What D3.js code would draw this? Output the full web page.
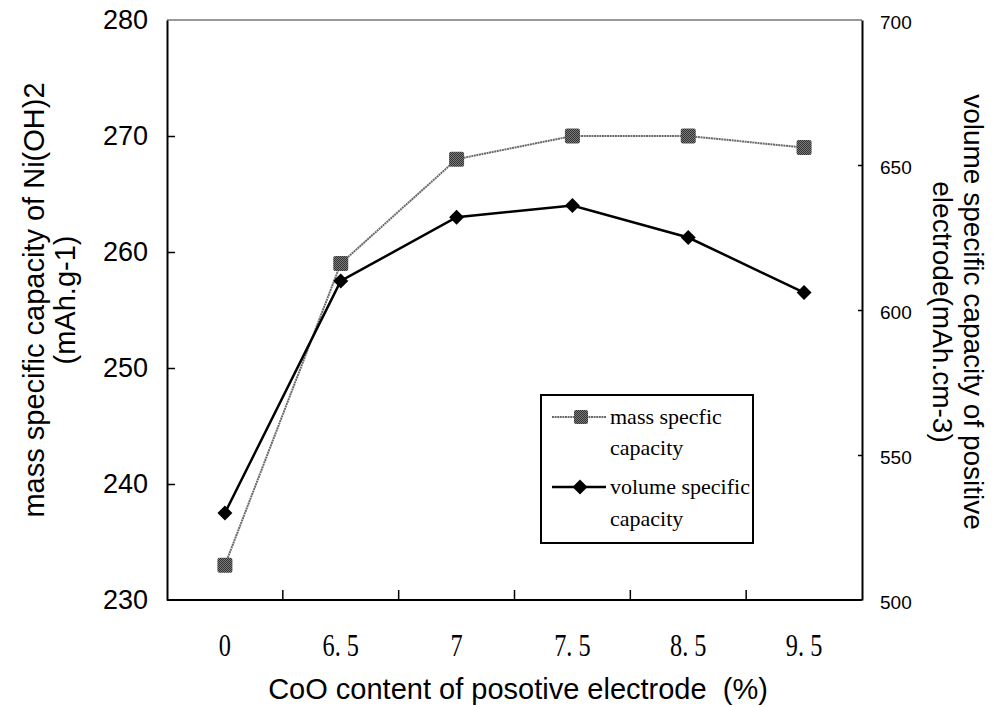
<!DOCTYPE html>
<html><head><meta charset="utf-8">
<script src="https://cdn.jsdelivr.net/npm/d3@7"></script>
<style>body{margin:0;background:#fff}svg{display:block}</style>
</head><body>
<script>
const categories = ["0", "6.5", "7", "7.5", "8.5", "9.5"];
const massValues = [233, 259, 268, 270, 270, 269];
const volumeValues = [530, 610, 632, 636, 625, 606];
const leftTicks = [230, 240, 250, 260, 270, 280];
const rightTicks = [500, 550, 600, 650, 700];

const W = 993, H = 707;
const m = {l: 167, r: 862, t: 20, b: 600};
const svg = d3.select("body").append("svg").attr("width", W).attr("height", H);

// stippled fill for square markers
const pat = svg.append("defs").append("pattern").attr("id", "stip")
  .attr("width", 2).attr("height", 2).attr("patternUnits", "userSpaceOnUse");
pat.append("rect").attr("width", 2).attr("height", 2).attr("fill", "#7a7a7a");
pat.append("rect").attr("width", 1).attr("height", 1).attr("fill", "#333");
pat.append("rect").attr("x", 1).attr("y", 1).attr("width", 1).attr("height", 1).attr("fill", "#333");

const x = d3.scaleBand().domain(categories).range([m.l, m.r]);
const yL = d3.scaleLinear().domain([230, 280]).range([m.b, m.t]);
const yR = d3.scaleLinear().domain([500, 700]).range([m.b, m.t]);
const cx = d => x(d) + x.bandwidth() / 2;

// top border (grayish dotted)
svg.append("line").attr("x1", m.l).attr("x2", m.r).attr("y1", m.t).attr("y2", m.t)
  .attr("stroke", "#777").attr("stroke-width", 1.5);

// left axis
const gL = svg.append("g").attr("transform", `translate(${m.l},0)`)
  .call(d3.axisLeft(yL).tickValues(leftTicks).tickSize(-8).tickPadding(19).tickSizeOuter(0));
gL.select(".domain").attr("stroke", "#000").attr("stroke-width", 2);
gL.selectAll(".tick line").attr("stroke", "#000").attr("stroke-width", 1.5)
  .filter(d => d === 230 || d === 280).remove();
gL.selectAll(".tick text").attr("font-family", "Liberation Sans, Arial, sans-serif")
  .attr("font-size", 27).attr("fill", "#000");

// right axis
const gR = svg.append("g").attr("transform", `translate(${m.r},0)`)
  .call(d3.axisRight(yR).tickValues(rightTicks).tickSize(-4).tickPadding(18).tickSizeOuter(0));
gR.select(".domain").attr("stroke", "#000").attr("stroke-width", 2);
gR.selectAll(".tick line").attr("stroke", "#000").attr("stroke-width", 1.5)
  .filter(d => d === 500 || d === 700).remove();
gR.selectAll(".tick text").attr("font-family", "Liberation Sans, Arial, sans-serif")
  .attr("font-size", 19).attr("fill", "#000").attr("dy", "0.45em");

// bottom axis
const gB = svg.append("g").attr("transform", `translate(0,${m.b})`)
  .call(d3.axisBottom(x).tickSize(0).tickPadding(33).tickSizeOuter(0));
gB.select(".domain").attr("stroke", "#000").attr("stroke-width", 2)
  .attr("d", `M${m.l},0H${m.r}`);
gB.selectAll(".tick text").attr("font-family", "Liberation Serif, serif")
  .attr("font-size", 32).attr("fill", "#000")
  .attr("transform", "scale(0.76,1)")
  .text(d => d.replace(".", ".\u00a0"));
// x ticks between categories, pointing up
gB.selectAll("line.sep").data(categories.slice(1)).enter().append("line")
  .attr("class", "sep")
  .attr("x1", d => x(d)).attr("x2", d => x(d)).attr("y1", 0).attr("y2", -10)
  .attr("stroke", "#000").attr("stroke-width", 1.5);

// lines
const lineMass = d3.line().x((d, i) => cx(categories[i])).y(d => yL(d));
const lineVol = d3.line().x((d, i) => cx(categories[i])).y(d => yR(d));

svg.append("path").datum(massValues).attr("d", lineMass)
  .attr("fill", "none").attr("stroke", "#6a6a6a").attr("stroke-width", 2)
  .attr("stroke-dasharray", "2,0.6");
svg.append("path").datum(volumeValues).attr("d", lineVol)
  .attr("fill", "none").attr("stroke", "#000").attr("stroke-width", 2.5);

// markers
svg.selectAll("rect.mass").data(massValues).enter().append("rect").attr("class", "mass")
  .attr("x", (d, i) => cx(categories[i]) - 7.5)
  .attr("y", d => yL(d) - 7.5).attr("width", 15).attr("height", 15).attr("rx", 2)
  .attr("fill", "url(#stip)");
const diamond = d3.symbol().type(d3.symbolSquare).size(112);
svg.selectAll("path.vol").data(volumeValues).enter().append("path").attr("class", "vol")
  .attr("d", diamond)
  .attr("transform", (d, i) => `translate(${cx(categories[i])},${yR(d)}) rotate(45)`)
  .attr("fill", "#000");

// legend
const lg = svg.append("g");
lg.append("rect").attr("x", 541).attr("y", 395).attr("width", 212).attr("height", 148)
  .attr("fill", "#fff").attr("stroke", "#000").attr("stroke-width", 2);
lg.append("line").attr("x1", 552).attr("x2", 606).attr("y1", 417).attr("y2", 417)
  .attr("stroke", "#6a6a6a").attr("stroke-width", 2).attr("stroke-dasharray", "2,0.6");
lg.append("rect").attr("x", 574).attr("y", 410).attr("width", 14).attr("height", 14).attr("rx", 2)
  .attr("fill", "url(#stip)");
lg.append("line").attr("x1", 552).attr("x2", 606).attr("y1", 487).attr("y2", 487)
  .attr("stroke", "#000").attr("stroke-width", 2.5);
lg.append("path").attr("d", diamond).attr("transform", "translate(580,487) rotate(45)").attr("fill", "#000");
const lt = lg.append("g").attr("font-family", "Liberation Serif, serif").attr("font-size", 22).attr("fill", "#000");
lt.append("text").attr("x", 610).attr("y", 424).text("mass specfic");
lt.append("text").attr("x", 610).attr("y", 455).text("capacity");
lt.append("text").attr("x", 610).attr("y", 494).text("volume specific");
lt.append("text").attr("x", 610).attr("y", 526).text("capacity");

// axis titles
const tf = "Liberation Sans, Arial, sans-serif";
svg.append("text").attr("x", 518).attr("y", 699).attr("text-anchor", "middle")
  .attr("font-family", tf).attr("font-size", 29).text("CoO content of posotive electrode\u00a0\u00a0(%)");
const lt1 = svg.append("g").attr("transform", "translate(44,300) rotate(-90)")
  .attr("font-family", tf).attr("font-size", 29).attr("text-anchor", "middle");
lt1.append("text").attr("y", 0).text("mass specific capacity of Ni(OH)2");
lt1.append("text").attr("y", 31).text("(mAh.g-1)");
const rt1 = svg.append("g").attr("transform", "translate(964,312) rotate(90)")
  .attr("font-family", tf).attr("font-size", 28).attr("text-anchor", "middle");
rt1.append("text").attr("y", 0).text("volume specific capacity of positive");
rt1.append("text").attr("y", 31).text("electrode(mAh.cm-3)");
</script>
</body></html>
